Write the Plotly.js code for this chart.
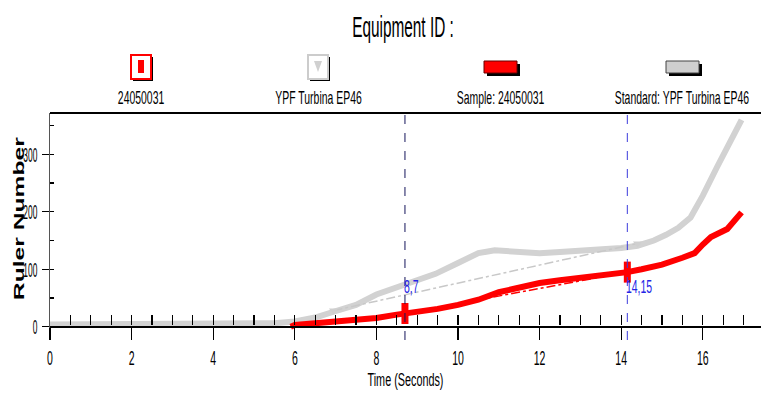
<!DOCTYPE html>
<html><head><meta charset="utf-8">
<script src="https://cdn.plot.ly/plotly-3.0.1.min.js"></script>
<style>html,body{margin:0;padding:0;background:#fff;}</style>
</head><body>
<div id="chart" style="width:761px;height:398px;"></div>
<script>
// ---- data ----
const standardTime = [0, 1, 2, 3, 4, 5, 5.5, 6.0, 6.5, 6.95, 7.5, 8.0, 8.7, 9.0, 9.45, 10.0, 10.5, 10.9, 11.5, 12.0, 12.5, 13.0, 13.5, 14.0, 14.4, 14.8, 15.1, 15.4, 15.7, 16.0, 16.35, 16.75, 16.95];
const standardValue = [4, 4, 4, 4, 5, 5, 6, 9, 16, 26, 38, 56, 73, 80, 92, 111, 128, 133, 129, 128, 130, 132, 134, 137, 141, 150, 160, 172, 190, 228, 278, 335, 360];
const sampleTime = [5.9, 6.0, 6.5, 7.0, 7.5, 8.0, 8.5, 8.7, 9.0, 9.5, 10.0, 10.5, 11.0, 11.5, 12.0, 12.5, 13.0, 13.5, 14.0, 14.15, 14.5, 15.0, 15.5, 15.8, 16.0, 16.2, 16.6, 16.95];
const sampleValue = [0, 3, 6, 9, 12, 15, 21, 23, 25, 31, 38, 47, 60, 68, 76, 81, 85, 88, 92, 95, 100, 108, 120, 128, 143, 156, 170, 199];
const sampleMarkTime = [8.7, 14.15];
const sampleMarkValue = [23, 95];
const standardMarkTime = [6.95, 14.4];
const standardMarkValue = [28, 145];
const cursorTime = [8.7, 14.15];
const cursorLabels = ["8,7", "14,15"];
const seriesNames = ["24050031", "YPF Turbina EP46", "Sample: 24050031", "Standard: YPF Turbina EP46"];
const yTickVals = [0, 100, 200, 300];
const xTickVals = [0, 2, 4, 6, 8, 10, 12, 14, 16];

// ---- layout helpers (pixel -> paper) ----
const L = 50, R = 761, T = 113, B = 340;
const px = x => (x - L) / (R - L);
const py = y => (B - y) / (B - T);
const NARROW = '"Liberation Sans Narrow", "Liberation Sans", Arial, sans-serif';
const RED = '#ff0000', GRAY = '#d2d2d2';

const traces = [
  {x: standardTime, y: standardValue, type: 'scatter', mode: 'lines', name: seriesNames[3],
   line: {color: GRAY, width: 6}},
  {x: [standardMarkTime[0], standardMarkTime[1]], y: [standardMarkValue[0], standardMarkValue[1]], type: 'scatter', mode: 'lines',
   line: {color: '#c8c8c8', width: 1.5, dash: 'dashdot'}, showlegend: false},
  {x: sampleTime, y: sampleValue, type: 'scatter', mode: 'lines', name: seriesNames[2],
   line: {color: RED, width: 6}},
  {x: [sampleMarkTime[0], sampleMarkTime[1]], y: [sampleMarkValue[0], sampleMarkValue[1]], type: 'scatter', mode: 'lines',
   line: {color: RED, width: 1.5, dash: 'dashdot'}, showlegend: false},
  {x: standardMarkTime, y: standardMarkValue, type: 'scatter', mode: 'markers', name: seriesNames[1],
   marker: {symbol: 'triangle-down', size: 8, color: '#cfcfcf'}},
  {x: sampleMarkTime, y: sampleMarkValue, type: 'scatter', mode: 'markers', name: seriesNames[0],
   marker: {symbol: 'line-ns', size: 15, line: {color: RED, width: 7}}}
];

const shapes = [];
shapes.push({type: 'line', xref: 'paper', yref: 'paper', x0: 0, x1: 1, y0: 1, y1: 1, line: {color: '#000', width: 2}});
const cursorColors = ['#14145a', '#3c3cdc'];
cursorTime.forEach((t, i) => shapes.push({type: 'line', xref: 'x', yref: 'paper', x0: t, x1: t, y0: 0, y1: 1,
  line: {color: cursorColors[i], width: 1, dash: 'dash'}, layer: 'above'}));

function rect(x0, y0, x1, y1, fill, lineColor, lw) {
  shapes.push({type: 'rect', xref: 'paper', yref: 'paper', x0: px(x0), x1: px(x1), y0: py(y1), y1: py(y0),
    fillcolor: fill, line: {color: lineColor, width: lw}});
}
rect(133, 57, 153, 81, '#000', '#000', 0);
rect(131, 55, 151, 79, '#fff', RED, 2);
rect(138, 60, 144, 73, RED, RED, 0);
rect(310, 57, 330, 81, '#000', '#000', 0);
rect(308, 55, 328, 79, '#fff', '#cccccc', 2);
shapes.push({type: 'path', xref: 'paper', yref: 'paper',
  path: `M ${px(314)} ${py(61)} L ${px(322)} ${py(61)} L ${px(318)} ${py(72)} Z`, fillcolor: '#d0d0d0', line: {width: 0}});
rect(487, 64, 520, 76, '#000', '#000', 0);
rect(484, 61, 517, 73, RED, '#600', 1);
rect(669, 64, 702, 76, '#000', '#000', 0);
rect(666, 61, 699, 73, '#cfcfcf', '#444', 1);

const annotations = [];
const legendX = [141, 318, 500, 682];
seriesNames.forEach((n, i) => annotations.push({xref: 'paper', yref: 'paper', x: px(legendX[i]), y: py(98),
  text: n, showarrow: false, xanchor: 'center', yanchor: 'middle',
  font: {family: NARROW, size: 18, color: '#000'}}));
cursorTime.forEach((t, i) => annotations.push({xref: 'x', yref: 'y', x: t, y: 70, text: cursorLabels[i],
  showarrow: false, xanchor: 'left', yanchor: 'middle', xshift: -3, font: {family: NARROW, size: 19, color: '#2424e6'}}));
annotations.push({xref: 'paper', yref: 'paper', x: px(19), y: py(219), text: 'Ruler Number', textangle: -90,
  showarrow: false, xanchor: 'center', yanchor: 'middle',
  font: {family: '"Liberation Sans", Arial, sans-serif', size: 14, color: '#000', weight: 'bold'}});

const pos0 = (B - 326.7) / (B - T);
const layout = {
  width: 761, height: 398,
  margin: {l: L, r: 761 - R, t: T, b: 398 - B, pad: 0},
  paper_bgcolor: '#fff', plot_bgcolor: '#fff',
  showlegend: false,
  font: {family: NARROW, color: '#000'},
  title: {text: 'Equipment ID :', font: {family: NARROW, size: 29, color: '#000'},
    xref: 'container', yref: 'container', x: 403 / 761, y: 1 - 27 / 398, xanchor: 'center', yanchor: 'middle'},
  xaxis: {range: [0, (R - L) / 40.8], anchor: 'free', position: pos0, showline: true, linecolor: '#000', linewidth: 2,
    ticks: 'outside', ticklen: 12, tickwidth: 1.2, tickcolor: '#000', tickvals: xTickVals, ticktext: xTickVals.map(String),
    tickfont: {family: NARROW, size: 21, color: '#000'}, showgrid: false, zeroline: false,
    title: {text: 'Time (Seconds)', font: {family: NARROW, size: 19, color: '#000'}, standoff: 0}},
  xaxis2: {matches: 'x', overlaying: 'x', anchor: 'free', position: pos0 + 2 / (B - T), showline: false,
    ticks: 'inside', ticklen: 10, tickwidth: 1.2, tickcolor: '#000', dtick: 0.5, tick0: 0,
    showticklabels: false, showgrid: false, zeroline: false},
  yaxis: {range: [-(B - 326.7) / 0.5745, (326.7 - T) / 0.5745], showline: true, linecolor: '#555', linewidth: 1.5,
    ticks: 'outside', ticklen: 7, tickcolor: '#000', tickwidth: 1.2, tickvals: yTickVals, ticktext: yTickVals.map(String),
    minor: {ticks: 'inside', dtick: 50, tick0: 0, ticklen: 4, tickcolor: '#000'},
    tickfont: {family: NARROW, size: 21, color: '#000'}, showgrid: false, zeroline: false},
  shapes: shapes,
  annotations: annotations
};
traces.push({x: [0], y: [null], xaxis: 'x2', type: 'scatter', mode: 'lines', showlegend: false, hoverinfo: 'skip'});

// condense text horizontally about an anchor (reference uses a tall, narrow typeface)
function squeezeEl(el, f, mode) {
  let ax;
  if (mode === 'left') ax = el.getBBox().x;
  else if (mode === 'right') { const b = el.getBBox(); ax = b.x + b.width; }
  else ax = parseFloat(el.getAttribute('x') || '0') || 0;
  const t = el.getAttribute('transform') || '';
  el.setAttribute('transform', `${t} translate(${ax},0) scale(${f},1) translate(${-ax},0)`);
}
function squeeze(sel, f, mode) { document.querySelectorAll(sel).forEach(el => squeezeEl(el, f, mode)); }
Plotly.newPlot('chart', traces, layout, {staticPlot: true, displayModeBar: false}).then(() => {
  squeeze('#chart .gtitle', 0.53);
  squeeze('#chart .xtick text', 0.5);
  squeeze('#chart .ytick text', 0.4, 'right');
  squeeze('#chart .xtitle', 0.57);
  document.querySelectorAll('#chart .annotation-text').forEach(el => {
    const t = el.textContent;
    if (t === 'Ruler Number') squeezeEl(el, 163 / el.getComputedTextLength());
    else if (cursorLabels.includes(t)) squeezeEl(el, 0.55, 'left');
    else squeezeEl(el, 0.58);
  });
});
</script>
</body></html>
